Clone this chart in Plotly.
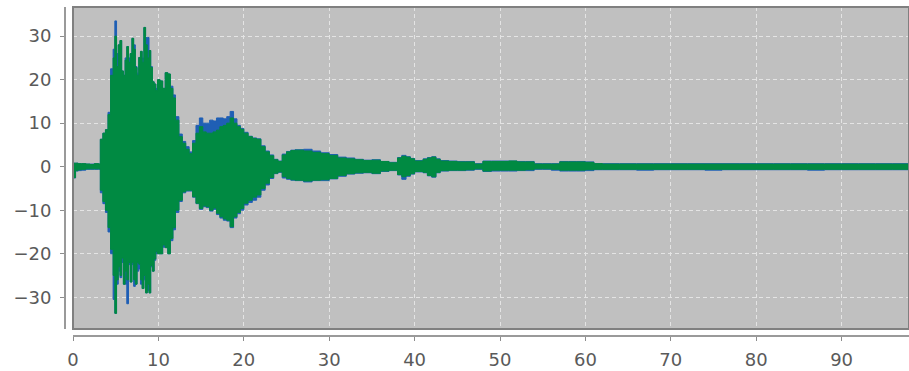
import plotly.graph_objects as go

# time positions (x) and envelope values
t = [0, 0.3, 0.6, 1, 1.5, 2, 2.5, 3, 3.2, 3.5, 3.8, 4.1, 4.4, 4.7, 4.9, 5.1, 5.3, 5.5, 5.7, 5.9,
     6.1, 6.3, 6.5, 6.7, 6.9, 7.1, 7.3, 7.5, 7.7, 7.9, 8.1, 8.3, 8.5, 8.7, 8.9, 9.1, 9.3, 9.5, 9.7, 9.9,
     10.2, 10.5, 10.8, 11.1, 11.4, 11.7, 12.0, 12.4, 12.8, 13.2, 13.6, 14.0, 14.4, 14.8, 15.2, 15.6,
     16.0, 16.4, 16.8, 17.2, 17.6, 18.0, 18.4, 18.8, 19.2, 19.6, 20.0, 20.5, 21.0, 21.5, 22.0, 22.5,
     23.0, 23.5, 24.0, 24.5, 25.0, 25.5, 26, 27, 28, 29, 30, 31, 32, 33, 34, 35, 36, 37, 38, 38.5,
     39, 39.5, 40, 41, 41.5, 42, 42.5, 43, 44, 45, 46, 47, 48, 49, 50, 51, 52, 53, 54, 55, 56, 57,
     58, 59, 60, 61, 62, 64, 66, 68, 70, 72, 74, 76, 78, 80, 82, 84, 86, 88, 90, 92, 94, 96, 98, 100]

green_upper = [0.8, 0.8, 0.7, 0.7, 0.6, 0.5, 0.7, 0.6, 6.3, 7.7, 8.5, 12.0, 21.0, 25.0, 30.0, 23.0, 28.0, 29.0, 22.0, 21.0,
               24.5, 27.6, 24.0, 26.0, 29.5, 27.0, 22.8, 21.0, 25.1, 26.5, 24.0, 32.0, 28.0, 25.0, 26.7, 22.8, 19.5, 19.0, 17.5, 20.0,
               19.7, 18.0, 21.6, 21.3, 18.0, 15.8, 10.7, 6.9, 5.4, 4.0, 3.0, 5.4, 7.7, 9.2, 8.0, 7.7,
               7.7, 8.0, 8.4, 9.2, 9.5, 10.0, 11.2, 10.0, 9.2, 8.6, 7.7, 6.9, 6.5, 6.3, 4.6, 3.4,
               2.5, 1.6, 1.2, 2.7, 3.4, 3.7, 3.8, 3.6, 3.3, 3.0, 2.6, 2.0, 1.8, 1.6, 1.4, 1.5, 1.2, 0.9, 2.0, 2.4,
               2.2, 1.8, 1.3, 1.7, 2.0, 2.2, 1.7, 1.3, 1.2, 1.1, 1.1, 0.6, 1.2, 1.2, 1.2, 1.3, 1.1, 1.1, 0.6, 0.6, 0.6, 1.1,
               1.1, 1.1, 1.0, 0.7, 0.6, 0.6, 0.6, 0.6, 0.6, 0.6, 0.6, 0.6, 0.6, 0.6, 0.6, 0.6, 0.6, 0.6, 0.6, 0.6, 0.6, 0.6, 0.6, 0.6]

green_lower = [-2.5, -0.9, -0.7, -0.6, -0.5, -0.5, -0.5, -0.5, -5.4, -8.0, -10.0, -14.0, -19.0, -25.0, -33.7, -26.0, -23.0, -25.0, -21.0, -27.0,
               -24.0, -26.0, -22.0, -26.5, -22.0, -26.0, -27.0, -22.0, -22.4, -26.0, -28.0, -25.0, -29.0, -27.0, -29.0, -22.7, -24.0, -21.2, -19.5, -20.0,
               -20.0, -18.0, -18.6, -20.0, -16.5, -14.0, -10.0, -7.7, -5.8, -5.4, -5.4, -6.9, -8.4, -9.6, -9.0, -9.2,
               -10.0, -9.5, -10.7, -11.5, -12.0, -12.3, -13.8, -11.5, -10.5, -9.6, -8.4, -7.7, -7.0, -6.5, -5.0, -3.8,
               -2.5, -1.5, -1.2, -2.3, -2.7, -3.0, -3.1, -3.3, -3.1, -3.0, -2.7, -2.0, -1.6, -1.4, -1.3, -1.5, -1.0, -0.8, -1.8, -2.3,
               -2.0, -1.6, -1.1, -1.3, -2.0, -2.3, -1.3, -0.9, -0.8, -0.8, -0.7, -0.5, -1.0, -0.8, -0.8, -0.8, -0.8, -0.7, -0.5, -0.5, -0.6, -0.8,
               -0.8, -0.8, -0.7, -0.6, -0.6, -0.6, -0.6, -0.6, -0.6, -0.6, -0.6, -0.6, -0.6, -0.6, -0.6, -0.6, -0.6, -0.6, -0.6, -0.6, -0.6, -0.6, -0.6, -0.6]

blue_upper = [0.8, 0.8, 0.7, 0.7, 0.6, 0.6, 0.7, 0.6, 6.3, 7.7, 8.5, 12.5, 22.5, 27.0, 33.5, 26.0, 28.0, 29.0, 22.0, 21.0,
              25.0, 27.6, 25.0, 26.0, 29.5, 28.0, 23.0, 21.5, 25.1, 26.5, 25.0, 32.0, 29.7, 29.7, 26.7, 23.0, 19.5, 19.0, 18.0, 20.0,
              19.7, 18.0, 21.6, 21.3, 18.5, 16.5, 11.5, 7.5, 5.8, 4.6, 3.4, 6.0, 9.5, 11.2, 10.0, 10.0,
              10.7, 10.5, 11.2, 11.2, 11.0, 11.5, 12.7, 11.0, 9.5, 8.8, 7.9, 7.0, 6.6, 6.4, 4.8, 3.6,
              2.7, 1.7, 1.3, 2.9, 3.5, 3.8, 3.9, 4.0, 3.6, 3.2, 2.8, 2.2, 2.0, 1.7, 1.5, 1.6, 1.2, 1.0, 2.1, 2.6,
              2.3, 1.9, 1.4, 1.8, 2.1, 2.3, 1.8, 1.4, 1.3, 1.2, 1.2, 0.7, 1.3, 1.3, 1.3, 1.3, 1.2, 1.2, 0.7, 0.7, 0.7, 1.2,
              1.2, 1.2, 1.1, 0.7, 0.7, 0.7, 0.7, 0.7, 0.7, 0.7, 0.7, 0.7, 0.7, 0.7, 0.7, 0.7, 0.7, 0.7, 0.7, 0.7, 0.7, 0.7, 0.7, 0.7]

blue_lower = [-2.6, -1.0, -0.9, -0.8, -0.6, -0.6, -0.6, -0.6, -6.0, -8.5, -10.5, -15.0, -20.0, -30.5, -33.7, -27.0, -24.0, -25.5, -22.0, -27.0,
              -27.0, -31.5, -22.5, -26.5, -22.5, -27.5, -27.0, -24.0, -23.5, -27.0, -28.0, -26.0, -29.0, -28.5, -29.0, -23.0, -24.0, -21.5, -20.0, -20.0,
              -20.0, -18.5, -18.6, -20.0, -17.0, -14.5, -10.5, -8.0, -6.0, -5.6, -5.6, -7.0, -8.5, -9.8, -9.2, -9.4,
              -10.2, -9.8, -11.0, -11.8, -12.3, -12.5, -14.0, -11.8, -10.8, -10.0, -8.8, -8.2, -7.7, -7.0, -5.4, -4.2,
              -2.7, -1.6, -1.3, -2.6, -2.9, -3.1, -3.2, -3.5, -3.2, -3.2, -2.8, -2.2, -1.7, -1.5, -1.4, -1.6, -1.1, -0.9, -1.9, -2.9,
              -2.2, -1.7, -1.2, -1.4, -2.1, -2.4, -1.4, -1.0, -0.9, -0.9, -0.8, -0.6, -1.1, -1.0, -1.0, -1.0, -0.9, -0.9, -0.6, -0.6, -0.8, -1.0,
              -1.0, -1.0, -0.9, -0.7, -0.7, -0.7, -0.8, -0.7, -0.7, -0.7, -0.8, -0.7, -0.7, -0.7, -0.7, -0.7, -0.8, -0.7, -0.7, -0.7, -0.7, -0.7, -0.7, -0.7]

x_ticks = [0, 10, 20, 30, 40, 50, 60, 70, 80, 90, 100]
y_ticks = [-30, -20, -10, 0, 10, 20, 30]

BLUE = "#1f5fb5"
GREEN = "#008a42"

fig = go.Figure()
for lower, upper, col in [(blue_lower, blue_upper, BLUE), (green_lower, green_upper, GREEN)]:
    fig.add_trace(go.Scatter(x=t, y=lower, mode="lines", line=dict(color=col, width=1, shape="hv"),
                             hoverinfo="skip", showlegend=False))
    fig.add_trace(go.Scatter(x=t, y=upper, mode="lines", line=dict(color=col, width=1, shape="hv"),
                             fill="tonexty", fillcolor=col, hoverinfo="skip", showlegend=False))

W, H = 909, 371
ml, mt, mb = 65, 7, 35
pw = W - ml
ph = H - mt - mb

tickfont = dict(family="DejaVu Sans", size=18, color="#5a5a5a")
grid = dict(showgrid=True, gridcolor="#e4e4e4", gridwidth=1, griddash="4px,3px")

fig.update_layout(
    width=W, height=H,
    margin=dict(l=ml, r=0, t=mt, b=mb, pad=0),
    paper_bgcolor="white",
    plot_bgcolor="#c0c0c0",
    hovermode=False,
    xaxis=dict(domain=[8 / pw, 1], anchor="free", position=0, range=[0, (W - 73) / 8.54],
               tickvals=x_ticks, ticks="outside", ticklen=4, tickcolor="#8c8c8c", tickwidth=1,
               showline=True, linecolor="#9a9a9a", linewidth=2, zeroline=False,
               tickfont=tickfont, ticklabelstandoff=3, **grid),
    yaxis=dict(domain=[7 / ph, 1], anchor="free", position=0, range=[-37.3, 36.7],
               tickvals=y_ticks, ticks="outside", ticklen=4, tickcolor="#8c8c8c", tickwidth=1,
               showline=True, linecolor="#9a9a9a", linewidth=2, zeroline=False,
               tickfont=tickfont, ticklabelstandoff=5, **grid),
    shapes=[dict(type="rect", xref="x domain", yref="y domain", x0=0, x1=1, y0=0, y1=1,
                 line=dict(color="#808080", width=2), layer="above")],
)

fig.write_html("out.html", config={"displayModeBar": False, "staticPlot": True},
               post_script="document.body.style.margin='0';document.body.style.overflow='hidden';")
